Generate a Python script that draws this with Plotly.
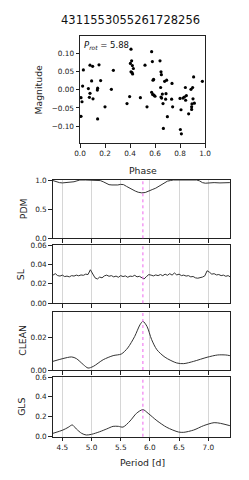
import plotly.graph_objects as go

TITLE = "4311553055261728256"
P_ROT = 5.88

phase = [0.008, 0.008, 0.016, 0.027, 0.021, 0.067, 0.075, 0.080, 0.080, 0.093, 0.101, 0.104,
         0.139, 0.141, 0.141, 0.152, 0.165, 0.200, 0.251, 0.267, 0.376, 0.397, 0.403, 0.408,
         0.408, 0.413, 0.416, 0.419, 0.421, 0.427, 0.483, 0.520, 0.536, 0.573, 0.579, 0.584,
         0.589, 0.573, 0.581, 0.592, 0.600, 0.640, 0.645, 0.648, 0.651, 0.648, 0.653, 0.659,
         0.664, 0.667, 0.677, 0.685, 0.688, 0.693, 0.699, 0.733, 0.736, 0.741, 0.800, 0.803,
         0.808, 0.811, 0.824, 0.835, 0.843, 0.845, 0.851, 0.869, 0.888, 0.893, 0.893, 0.896,
         0.901, 0.904, 0.909, 0.915, 0.979]
mag = [-0.073, -0.022, -0.033, 0.054, 0.010, 0.003, -0.021, -0.010, 0.067, 0.024, 0.064, -0.025,
       -0.001, 0.004, -0.080, 0.068, 0.025, -0.047, 0.001, 0.053, -0.038, -0.019, 0.072, 0.111,
       0.049, 0.079, 0.047, 0.066, 0.043, 0.058, -0.022, 0.067, -0.047, 0.104, 0.077, 0.026,
       0.028, -0.007, -0.013, -0.015, -0.018, 0.079, 0.006, 0.049, 0.041, -0.020, -0.023, -0.012,
       -0.038, -0.106, 0.023, -0.026, -0.011, 0.026, -0.074, -0.026, 0.017, -0.047, -0.024, -0.109,
       -0.055, -0.121, -0.023, -0.020, 0.006, -0.029, -0.016, -0.066, 0.001, -0.047, -0.054, -0.039,
       0.006, -0.025, 0.035, -0.037, 0.023]

pdm_period = [4.34, 4.40, 4.45, 4.50, 4.55, 4.60, 4.65, 4.70, 4.75, 4.80, 4.90, 5.00, 5.10,
              5.15, 5.20, 5.25, 5.30, 5.35, 5.40, 5.45, 5.50, 5.55, 5.60, 5.65, 5.70, 5.75,
              5.80, 5.86, 5.92, 5.95, 6.00, 6.05, 6.10, 6.15, 6.20, 6.25, 6.30, 6.35, 6.40,
              6.50, 6.60, 6.70, 6.80, 6.85, 6.90, 6.95, 7.00, 7.10, 7.20, 7.30, 7.37]
pdm_power = [0.99, 0.97, 0.955, 0.95, 0.955, 0.95, 0.96, 0.97, 0.985, 1.0, 1.0, 1.0, 1.0,
             0.99, 0.97, 0.94, 0.92, 0.915, 0.91, 0.915, 0.925, 0.92, 0.89, 0.86, 0.83, 0.81,
             0.79, 0.78, 0.785, 0.80, 0.82, 0.84, 0.86, 0.89, 0.93, 0.96, 0.98, 0.99, 1.0,
             1.0, 1.0, 1.0, 1.0, 0.985, 0.955, 0.945, 0.95, 0.955, 0.95, 0.955, 0.955]

sl_period = [4.34, 4.38, 4.42, 4.46, 4.50, 4.54, 4.58, 4.62, 4.66, 4.70, 4.74, 4.78, 4.82,
             4.86, 4.90, 4.94, 4.98, 5.02, 5.06, 5.10, 5.14, 5.18, 5.22, 5.26, 5.30, 5.34,
             5.38, 5.42, 5.46, 5.50, 5.54, 5.58, 5.62, 5.66, 5.70, 5.74, 5.78, 5.82, 5.86,
             5.90, 5.94, 5.98, 6.02, 6.06, 6.10, 6.14, 6.18, 6.22, 6.26, 6.30, 6.34, 6.38,
             6.42, 6.46, 6.50, 6.54, 6.58, 6.62, 6.66, 6.70, 6.74, 6.78, 6.82, 6.86, 6.90,
             6.94, 6.98, 7.02, 7.06, 7.10, 7.14, 7.18, 7.22, 7.26, 7.30, 7.34, 7.38]
sl_power = [0.0290, 0.0305, 0.0285, 0.0280, 0.0290, 0.0275, 0.0280, 0.0272, 0.0285, 0.0280,
            0.0290, 0.0283, 0.0292, 0.0288, 0.0300, 0.0296, 0.0345, 0.0300, 0.0262, 0.0250,
            0.0270, 0.0262, 0.0282, 0.0290, 0.0278, 0.0285, 0.0272, 0.0280, 0.0268, 0.0285,
            0.0275, 0.0282, 0.0268, 0.0280, 0.0276, 0.0288, 0.0272, 0.0278, 0.0268, 0.0250,
            0.0275, 0.0295, 0.0290, 0.0282, 0.0292, 0.0285, 0.0296, 0.0284, 0.0300, 0.0288,
            0.0305, 0.0290, 0.0312, 0.0292, 0.0300, 0.0285, 0.0290, 0.0280, 0.0285, 0.0272,
            0.0276, 0.0262, 0.0258, 0.0262, 0.0270, 0.0282, 0.0335, 0.0320, 0.0300, 0.0305,
            0.0292, 0.0296, 0.0285, 0.0290, 0.0278, 0.0285, 0.0270]

clean_period = [4.34, 4.51, 4.66, 4.74, 4.86, 4.94, 5.03, 5.20, 5.37, 5.51, 5.62, 5.74, 5.83,
                5.88, 5.95, 6.03, 6.12, 6.26, 6.46, 6.58, 6.75, 6.98, 7.16, 7.30, 7.37]
clean_power = [0.0053, 0.0070, 0.0080, 0.0070, 0.0033, 0.0012, 0.0022, 0.0063, 0.0088, 0.0098,
               0.0135, 0.0206, 0.0277, 0.0298, 0.0267, 0.0186, 0.0124, 0.0078, 0.0043, 0.0039,
               0.0053, 0.0078, 0.0092, 0.0092, 0.0088]

gls_period = [4.34, 4.51, 4.60, 4.67, 4.74, 4.83, 4.91, 5.00, 5.14, 5.26, 5.37, 5.46, 5.54,
              5.66, 5.77, 5.88, 5.97, 6.12, 6.29, 6.49, 6.58, 6.75, 6.92, 7.10, 7.21, 7.37]
gls_power = [0.034, 0.067, 0.094, 0.118, 0.078, 0.034, 0.017, 0.024, 0.050, 0.078, 0.104, 0.104,
             0.097, 0.158, 0.235, 0.272, 0.235, 0.161, 0.094, 0.047, 0.044, 0.067, 0.111, 0.141,
             0.134, 0.111]

period_ticks = [4.5, 5.0, 5.5, 6.0, 6.5, 7.0]

W, H = 249, 480
FONT = "DejaVu Sans"
LC = "#333333"


def fx(px):
    return px / W


def fy(py):
    return 1 - py / H


fig = go.Figure()

# scatter
fig.add_trace(go.Scatter(x=phase, y=mag, mode="markers", xaxis="x", yaxis="y",
                         marker=dict(color="black", size=3.2), showlegend=False))

panels = [
    ("x2", "y2", pdm_period, pdm_power, "PDM", [0, 1], [0.0, 0.5, 1.0], ["0.0", "0.5", "1.0"], 180, 238.3, "linear"),
    ("x3", "y3", sl_period, sl_power, "SL", [0, 0.06], [0, 0.02, 0.04, 0.06], ["0.00", "0.02", "0.04", "0.06"], 245, 303.3, "linear"),
    ("x4", "y4", clean_period, clean_power, "CLEAN", [0, 0.0357], [0, 0.02], ["0.00", "0.02"], 311.7, 370, "spline"),
    ("x5", "y5", gls_period, gls_power, "GLS", [0, 0.6], [0, 0.2, 0.4, 0.6], ["0.0", "0.2", "0.4", "0.6"], 377, 436.7, "spline"),
]

axis_common = dict(showline=True, linecolor="#222222", linewidth=1, mirror=True,
                   ticks="outside", ticklen=3.5, tickwidth=0.8, tickcolor="#222222",
                   tickfont=dict(family=FONT, size=7.3, color="#222222"), zeroline=False,
                   automargin=False)

layout = dict(
    width=W, height=H, margin=dict(l=0, r=0, t=0, b=0),
    paper_bgcolor="white", plot_bgcolor="white", showlegend=False,
    font=dict(family=FONT, color="#222222"),
    xaxis=dict(domain=[fx(80), fx(205)], range=[0, 1], tickvals=[0, 0.2, 0.4, 0.6, 0.8, 1.0],
               ticktext=["0.0", "0.2", "0.4", "0.6", "0.8", "1.0"], showgrid=False, anchor="y",
               **axis_common),
    yaxis=dict(domain=[fy(143), fy(36)], range=[-0.146, 0.147],
               tickvals=[-0.10, -0.05, 0.0, 0.05, 0.10],
               ticktext=["\u22120.10", "\u22120.05", "0.00", "0.05", "0.10"],
               showgrid=False, anchor="x", **axis_common),
)

annotations = [
    dict(text=TITLE, x=fx(130.5), y=fy(20), xref="paper", yref="paper", showarrow=False,
         font=dict(size=11.5, family=FONT, color="#111111"), xanchor="center", yanchor="middle"),
    dict(text="Magnitude", x=fx(38), y=fy(89.5), xref="paper", yref="paper", showarrow=False,
         textangle=-90, font=dict(size=9.3, family=FONT, color="#222222"), xanchor="center", yanchor="middle"),
    dict(text="Phase", x=fx(142.5), y=fy(170), xref="paper", yref="paper", showarrow=False,
         font=dict(size=9.3, family=FONT, color="#222222"), xanchor="center", yanchor="middle"),
    dict(text="<i>P</i><sub><i>rot</i></sub> = " + f"{P_ROT:.2f}", x=fx(82), y=fy(45), xref="paper", yref="paper",
         showarrow=False, font=dict(size=8.5, family=FONT, color="#111111"), xanchor="left", yanchor="middle"),
    dict(text="Period [d]", x=fx(142), y=fy(462), xref="paper", yref="paper", showarrow=False,
         font=dict(size=9.3, family=FONT, color="#222222"), xanchor="center", yanchor="middle"),
]

shapes = []
label_x = {"PDM": 23, "SL": 20, "CLEAN": 23, "GLS": 22}
for i, (xa, ya, per, pw, name, yr, tv, tt, top, bot, shape) in enumerate(panels):
    last = (i == len(panels) - 1)
    fig.add_trace(go.Scatter(x=per, y=pw, mode="lines", xaxis=xa, yaxis=ya,
                             line=dict(color=LC, width=1, shape=shape, smoothing=0.8),
                             showlegend=False, cliponaxis=True))
    xkey = "xaxis" + xa[1:]
    ykey = "yaxis" + ya[1:]
    layout[xkey] = dict(domain=[fx(52.7), fx(230)], range=[4.335, 7.372], anchor=ya,
                        tickvals=period_ticks, ticktext=[f"{v:.1f}" for v in period_ticks],
                        showticklabels=last, showgrid=True, gridcolor="#d6d6d6", gridwidth=1,
                        **axis_common)
    layout[ykey] = dict(domain=[fy(bot), fy(top)], range=yr, anchor=xa, tickvals=tv, ticktext=tt,
                        showgrid=False, **axis_common)
    annotations.append(dict(text=name, x=fx(label_x[name]), y=fy((top + bot) / 2), xref="paper",
                            yref="paper", showarrow=False, textangle=-90,
                            font=dict(size=9.3, family=FONT, color="#222222"),
                            xanchor="center", yanchor="middle"))
    shapes.append(dict(type="line", xref=xa, yref=ya + " domain", x0=P_ROT, x1=P_ROT, y0=0, y1=1,
                       line=dict(color="#ee66ee", width=1, dash="dot"), layer="above"))

layout["annotations"] = annotations
layout["shapes"] = shapes
fig.update_layout(**layout)
fig.write_html("out.html", config={"displayModeBar": False},
               post_script="document.body.style.margin='0';document.body.style.padding='0';")
